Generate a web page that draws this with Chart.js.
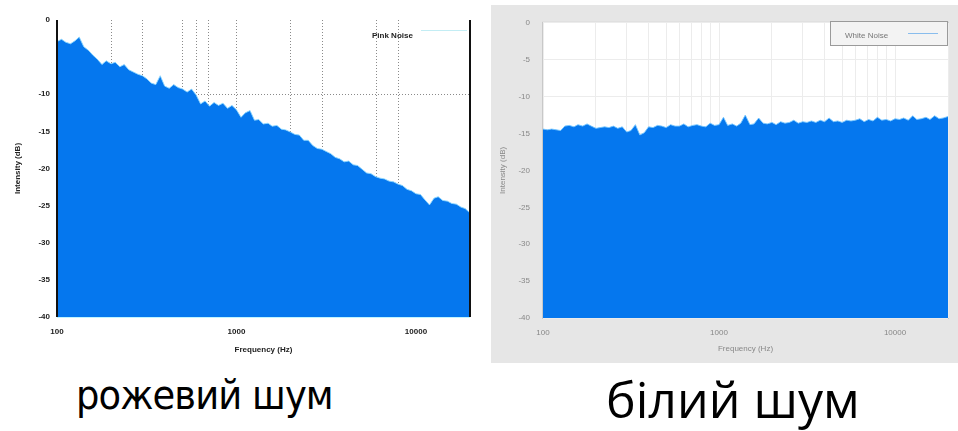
<!DOCTYPE html>
<html>
<head>
<meta charset="utf-8">
<script src="https://cdn.jsdelivr.net/npm/chart.js@4.4.1/dist/chart.umd.min.js"></script>
<style>
  html, body { margin: 0; padding: 0; background: #fff; }
  body { width: 958px; height: 431px; position: relative; overflow: hidden; }
  #pinkBox { position: absolute; left: 0; top: 0; width: 480px; height: 365px; }
  #whiteBox { position: absolute; left: 491px; top: 5px; width: 467px; height: 358px; background: #e6e6e6; }
  .caption { position: absolute; white-space: nowrap; color: #000; line-height: 1; }
  #capPink { left: 76px; top: 375px; font-family: "DejaVu Sans Condensed", "DejaVu Sans", sans-serif; font-size: 41px; letter-spacing: -0.9px; }
  #capWhite { left: 606px; top: 374px; font-family: "Open Sans", sans-serif; font-size: 50px; }
</style>
</head>
<body>
<div id="pinkBox"><canvas id="pink" width="480" height="365"></canvas></div>
<div id="whiteBox"><canvas id="white" width="467" height="358"></canvas></div>
<div class="caption" id="capPink">рожевий шум</div>
<div class="caption" id="capWhite">білий шум</div>
<script>
// частоти (Гц), спільні для обох спектрів
const freqHz = [
  100, 106, 112, 119, 126, 133, 141, 150, 158, 168, 178, 188, 200, 211, 224, 237, 251, 266, 282, 299,
  316, 335, 355, 376, 398, 422, 447, 473, 501, 531, 562, 596, 631, 668, 708, 750, 794, 841, 891, 944,
  1000, 1060, 1120, 1190, 1260, 1330, 1410, 1500, 1580, 1680, 1780, 1880, 2000, 2110, 2240, 2370, 2510, 2660, 2820, 2990,
  3160, 3350, 3550, 3760, 3980, 4220, 4470, 4730, 5010, 5310, 5620, 5960, 6310, 6680, 7080, 7500, 7940, 8410, 8910, 9440,
  10000, 10600, 11200, 11900, 12600, 13300, 14100, 15000, 15800, 16800, 17800, 18800, 20000,
];
const pinkDb = [
  -2.9, -2.6, -3.0, -3.2, -2.8, -2.3, -3.6, -4.1, -4.7, -5.3, -6.0, -5.5, -5.9, -5.7, -6.3, -6.0, -6.7, -7.0, -7.3, -7.5,
  -7.9, -8.5, -8.7, -7.5, -8.9, -9.2, -8.7, -9.1, -9.3, -9.7, -9.3, -10.1, -11.3, -10.9, -11.6, -11.1, -11.5, -11.2, -11.9, -11.5,
  -12.1, -13.1, -12.5, -12.2, -13.5, -13.4, -14.0, -13.9, -14.3, -14.2, -14.7, -14.8, -15.1, -15.4, -15.5, -16.2, -16.2, -16.9, -17.3, -17.4,
  -17.7, -18.0, -18.5, -18.7, -19.1, -19.0, -19.5, -19.6, -20.1, -20.6, -20.7, -21.1, -21.3, -21.4, -21.7, -21.8, -22.1, -22.3, -22.8, -23.0,
  -23.4, -23.5, -24.2, -24.9, -24.0, -23.8, -24.3, -24.4, -24.7, -24.8, -25.2, -25.4, -26.0,
];
const whiteDb = [
  -14.4, -14.5, -14.4, -14.5, -14.6, -14.0, -13.9, -14.1, -13.8, -14.0, -13.7, -14.0, -14.3, -14.2, -14.1, -14.2, -14.0, -14.3, -14.1, -14.8,
  -14.6, -13.8, -15.2, -14.9, -14.1, -14.2, -13.9, -14.0, -14.2, -13.8, -14.0, -14.0, -13.7, -14.1, -13.9, -13.8, -14.0, -14.1, -13.6, -13.9,
  -13.8, -12.8, -13.9, -13.7, -14.0, -13.6, -12.5, -13.8, -13.7, -12.9, -13.6, -13.7, -13.5, -13.8, -13.4, -13.6, -13.5, -13.2, -13.6, -13.4,
  -13.5, -13.3, -13.5, -13.2, -13.4, -12.9, -13.4, -13.3, -13.5, -13.2, -13.3, -13.2, -13.0, -13.4, -13.1, -13.3, -12.8, -13.2, -13.1, -13.3,
  -13.0, -13.1, -12.9, -13.2, -12.6, -13.1, -13.0, -12.8, -13.1, -12.6, -13.0, -12.9, -12.7,
];
const xLabels = [100, 1000, 10000];
const pinkGridHz = [200, 300, 500, 600, 700, 1000, 2000, 3000, 6000, 8000];
const whiteGridHz = [
  100, 200, 300, 400, 500, 600, 700, 800, 900, 1000, 2000, 3000, 4000, 5000, 6000, 7000, 8000, 9000, 10000, 20000,
];

const FILL = '#0577ee';

function series(dbs) { return freqHz.map((f, i) => ({ x: f, y: dbs[i] })); }

// легенда всередині графіка: текст, потім лінія-зразок
function legendPlugin(o) {
  return {
    id: 'legendBox',
    afterDraw(chart) {
      const c = chart.ctx;
      c.save();
      if (o.box) {
        c.fillStyle = '#f3f3f3';
        c.strokeStyle = '#9a9a9a';
        c.lineWidth = 1;
        c.fillRect(o.box[0], o.box[1], o.box[2], o.box[3]);
        c.strokeRect(o.box[0] + 0.5, o.box[1] + 0.5, o.box[2], o.box[3]);
      }
      c.font = o.font;
      c.fillStyle = o.color;
      c.textBaseline = 'middle';
      c.fillText(o.text, o.tx, o.ty);
      c.strokeStyle = o.lineColor;
      c.beginPath();
      c.moveTo(o.line[0], o.line[2]);
      c.lineTo(o.line[1], o.line[2]);
      c.stroke();
      c.restore();
    },
  };
}

const frameLines = {
  id: 'frameLines',
  afterDatasetsDraw(chart) {
    const { ctx, chartArea: a } = chart;
    ctx.save();
    ctx.strokeStyle = '#111';
    ctx.lineWidth = 2;
    ctx.beginPath();
    ctx.moveTo(a.left, a.top); ctx.lineTo(a.left, a.bottom);
    ctx.moveTo(a.right, a.top); ctx.lineTo(a.right, a.bottom);
    ctx.stroke();
    ctx.strokeStyle = '#bff3ff';
    ctx.lineWidth = 1;
    ctx.beginPath();
    ctx.moveTo(a.left, a.bottom + 0.5); ctx.lineTo(a.right, a.bottom + 0.5);
    ctx.stroke();
    ctx.restore();
  },
};

const plotBg = {
  id: 'plotBg',
  beforeDraw(chart) {
    const { ctx, chartArea: a } = chart;
    ctx.save();
    ctx.fillStyle = '#fff';
    ctx.fillRect(a.left, a.top, a.right - a.left, a.bottom - a.top);
    ctx.strokeStyle = '#c8c8c8';
    ctx.strokeRect(a.left - 0.5, a.top - 0.5, a.right - a.left + 1, a.bottom - a.top + 1);
    ctx.restore();
  },
};

// рожевий шум
new Chart(document.getElementById('pink'), {
  type: 'line',
  data: {
    datasets: [{
      label: 'Pink Noise',
      data: series(pinkDb),
      fill: 'start',
      backgroundColor: FILL,
      borderColor: 'rgba(140,215,255,0.9)',
      borderWidth: 1,
      pointRadius: 0,
      tension: 0,
    }],
  },
  options: {
    responsive: false, animation: false,
    layout: { padding: { top: 20, right: 10, left: 0, bottom: 0 } },
    plugins: { legend: { display: false }, tooltip: { enabled: false } },
    scales: {
      x: {
        type: 'logarithmic', min: 100, max: 20000,
        afterBuildTicks: (ax) => { ax.ticks = [...new Set([...xLabels, ...pinkGridHz])].sort((a, b) => a - b).map((v) => ({ value: v })); },
        afterFit: (ax) => { ax.height = 48; },
        ticks: {
          autoSkip: false, maxRotation: 0, padding: 10, color: '#222',
          font: { family: 'Liberation Sans', size: 8, weight: 'bold' },
          callback: (v) => (xLabels.includes(v) ? String(v) : ''),
        },
        grid: {
          drawTicks: false,
          color: (ctx) => (ctx.tick && pinkGridHz.includes(ctx.tick.value) ? '#8a8a8a' : 'rgba(0,0,0,0)'),
        },
        border: { display: false, dash: [1, 2] },
        title: { display: true, text: 'Frequency (Hz)', color: '#222', font: { family: 'Liberation Sans', size: 8, weight: 'bold' }, padding: { bottom: 10 } },
      },
      y: {
        min: -40, max: 0,
        afterFit: (ax) => { ax.width = 57; },
        ticks: {
          stepSize: 5, padding: 7, color: '#222',
          font: { family: 'Liberation Sans', size: 8, weight: 'bold' },
          callback: (v) => (v === -5 ? '' : String(v)),
        },
        grid: {
          drawTicks: false,
          color: (ctx) => (ctx.tick && ctx.tick.value === -10 ? '#8a8a8a' : 'rgba(0,0,0,0)'),
        },
        border: { display: false, dash: [1, 2] },
        title: { display: true, text: 'Intensity (dB)', color: '#222', font: { family: 'Liberation Sans', size: 8, weight: 'bold' }, padding: { top: 13 } },
      },
    },
  },
  plugins: [frameLines, legendPlugin({
    text: 'Pink Noise', tx: 372, ty: 36, font: 'bold 8px "Liberation Sans"', color: '#222',
    lineColor: 'rgba(170,230,240,0.7)', line: [421, 467, 30.5],
  })],
});

// білий шум
new Chart(document.getElementById('white'), {
  type: 'line',
  data: {
    datasets: [{
      label: 'White Noise',
      data: series(whiteDb),
      fill: 'start',
      backgroundColor: FILL,
      borderColor: 'rgba(120,200,255,0.9)',
      borderWidth: 1,
      pointRadius: 0,
      tension: 0,
    }],
  },
  options: {
    responsive: false, animation: false,
    layout: { padding: { top: 14, right: 5, left: 0, bottom: 0 } },
    plugins: { legend: { display: false }, tooltip: { enabled: false } },
    scales: {
      x: {
        type: 'logarithmic', min: 100, max: 20000,
        afterBuildTicks: (ax) => { ax.ticks = whiteGridHz.map((v) => ({ value: v })); },
        afterFit: (ax) => { ax.height = 45; },
        ticks: {
          autoSkip: false, maxRotation: 0, padding: 10, color: '#888',
          font: { family: 'Liberation Sans', size: 8 },
          callback: (v) => (xLabels.includes(v) ? String(v) : ''),
        },
        grid: { drawTicks: false, color: '#ececec' },
        border: { display: false },
        title: { display: true, text: 'Frequency (Hz)', color: '#888', font: { family: 'Liberation Sans', size: 8 }, padding: { bottom: 9 } },
      },
      y: {
        min: -40, max: 0,
        afterFit: (ax) => { ax.width = 52; },
        ticks: {
          stepSize: 5, padding: 13, color: '#888',
          font: { family: 'Liberation Sans', size: 8 },
        },
        grid: { drawTicks: false, color: '#ececec' },
        border: { display: false },
        title: { display: true, text: 'Intensity (dB)', color: '#888', font: { family: 'Liberation Sans', size: 8 }, padding: { top: 7 } },
      },
    },
  },
  plugins: [plotBg, legendPlugin({
    box: [339, 16, 117, 24],
    text: 'White Noise', tx: 354, ty: 31, font: '8px "Liberation Sans"', color: '#777',
    lineColor: 'rgba(110,175,235,0.8)', line: [417, 447, 28.5],
  })],
});
</script>
</body>
</html>
